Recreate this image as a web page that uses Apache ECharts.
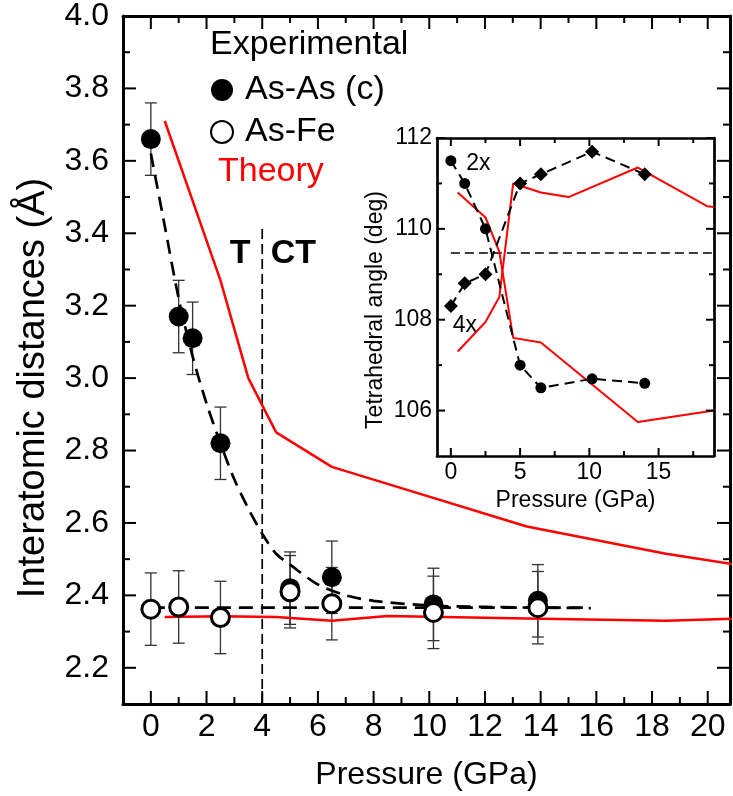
<!DOCTYPE html>
<html>
<head>
<meta charset="utf-8">
<script src="https://cdn.jsdelivr.net/npm/echarts@6/dist/echarts.min.js"></script>
<style>html,body{margin:0;padding:0;background:#fff}#c{width:733px;height:796px}</style>
</head>
<body>
<div id="c"></div>
<script>
// ---------- data ----------
const asAsPressure = [0, 1, 1.5, 2.5, 5, 6.5, 10.15, 13.9];
const asAsDist     = [3.66, 3.17, 3.11, 2.82, 2.42, 2.45, 2.375, 2.385];
const asAsErr      = [0.1, 0.1, 0.1, 0.1, 0.1, 0.1, 0.1, 0.1];

const asFePressure = [0, 1, 2.5, 5, 6.5, 10.15, 13.9];
const asFeDist     = [2.362, 2.368, 2.339, 2.41, 2.377, 2.353, 2.366];
const asFeErr      = [0.1, 0.1, 0.1, 0.1, 0.1, 0.1, 0.1];

const fitAsAsPressure = [0, 0.5, 1, 1.5, 2, 2.5, 3, 3.5, 4, 4.5, 5, 6, 7, 8, 10, 12, 14, 15.8];
const fitAsAsDist     = [3.62, 3.42, 3.22, 3.06, 2.93, 2.82, 2.72, 2.64, 2.57, 2.515, 2.485, 2.43, 2.40, 2.385, 2.372, 2.368, 2.366, 2.365];
const fitAsFePressure = [0, 15.8];
const fitAsFeDist     = [2.366, 2.366];

const theoryUpperPressure = [0.5, 2.5, 3.5, 4.5, 6.5, 8.5, 13.5, 18.5, 21];
const theoryUpperDist     = [3.71, 3.27, 3.0, 2.85, 2.755, 2.708, 2.59, 2.515, 2.485];
const theoryLowerPressure = [0.5, 2.5, 4.5, 6.5, 8.5, 13.5, 18.5, 21];
const theoryLowerDist     = [2.34, 2.342, 2.34, 2.33, 2.343, 2.336, 2.33, 2.336];

const transitionPressure = 4;
const transitionRange = [2.1, 3.42];

const mainXTicks = [0, 2, 4, 6, 8, 10, 12, 14, 16, 18, 20];
const mainXMinor = [1, 3, 5, 7, 9, 11, 13, 15, 17, 19];
const mainYTicks = [2.2, 2.4, 2.6, 2.8, 3.0, 3.2, 3.4, 3.6, 3.8, 4.0];
const mainYMinor = [2.3, 2.5, 2.7, 2.9, 3.1, 3.3, 3.5, 3.7, 3.9];

// inset
const insetPressure = [0, 1, 2.5, 5, 6.5, 10.2, 14];
const angle2x = [111.5, 111.0, 110.0, 107.0, 106.5, 106.7, 106.6];
const angle4x = [108.3, 108.8, 109.0, 111.0, 111.2, 111.7, 111.2];
const theoryAPressure = [0.5, 2.5, 3.5, 4.5, 6.5, 13.5, 19];
const theoryAAngle    = [110.8, 110.25, 109.5, 107.6, 107.5, 105.75, 106.0];
const theoryBPressure = [0.5, 2.5, 3.5, 4.5, 6.5, 8.5, 13.5, 18.5, 19];
const theoryBAngle    = [107.3, 107.95, 108.5, 111.0, 110.8, 110.7, 111.35, 110.5, 110.48];
const idealAngle = 109.47;
const idealRange = [0, 19];
const insetXTicks = [0, 5, 10, 15];
const insetXMinor = [2.5, 7.5, 12.5, 17.5];
const insetYTicks = [106, 108, 110, 112];
const insetYMinor = [107, 109, 111];

// ---------- helpers ----------
const FONT = 'Liberation Sans, Arial, Helvetica, sans-serif';
const zip = (a, b) => a.map((v, i) => [v, b[i]]);
const errData = (p, v, e) => p.map((x, i) => [x, v[i] - e[i], v[i] + e[i]]);
const near = (v, list) => list.some(t => Math.abs(t - v) < 1e-6);

function errRender(params, api) {
  const x = api.value(0), lo = api.value(1), hi = api.value(2);
  const a = api.coord([x, hi]), b = api.coord([x, lo]);
  const w = 6, st = {stroke: '#333', lineWidth: 1.3};
  return {type: 'group', children: [
    {type: 'line', shape: {x1: a[0], y1: a[1], x2: b[0], y2: b[1]}, style: st},
    {type: 'line', shape: {x1: a[0] - w, y1: a[1], x2: a[0] + w, y2: a[1]}, style: st},
    {type: 'line', shape: {x1: b[0] - w, y1: b[1], x2: b[0] + w, y2: b[1]}, style: st}
  ]};
}

// inside tick marks on both opposite sides, placed through the axis scales
function tickSeries(xi, yi, xr, yr, vals, isX, len, w) {
  const xMid = (xr[0] + xr[1]) / 2, yMid = (yr[0] + yr[1]) / 2;
  const data = vals.map(v => isX ? [v, yMid] : [xMid, v]);
  const st = {stroke: '#000', lineWidth: w};
  return {
    type: 'custom', xAxisIndex: xi, yAxisIndex: yi, silent: true, z: 10,
    encode: {x: 0, y: 1}, data: data,
    renderItem: function (params, api) {
      const vx = api.value(0), vy = api.value(1);
      let a, b;
      if (isX) {
        a = api.coord([vx, yr[0]]); b = api.coord([vx, yr[1]]);
        return {type: 'group', children: [
          {type: 'line', shape: {x1: a[0], y1: a[1], x2: a[0], y2: a[1] - len}, style: st},
          {type: 'line', shape: {x1: b[0], y1: b[1], x2: b[0], y2: b[1] + len}, style: st}
        ]};
      }
      a = api.coord([xr[0], vy]); b = api.coord([xr[1], vy]);
      return {type: 'group', children: [
        {type: 'line', shape: {x1: a[0], y1: a[1], x2: a[0] + len, y2: a[1]}, style: st},
        {type: 'line', shape: {x1: b[0], y1: b[1], x2: b[0] - len, y2: b[1]}, style: st}
      ]};
    }
  };
}

function mkAxis(o) {
  return Object.assign({
    type: 'value', splitLine: {show: false},
    axisLine: {show: true, onZero: false, lineStyle: {color: '#000', width: o.lw || 3}},
    axisTick: {show: false},
    axisLabel: o.labels ? {show: true, fontSize: o.fs, fontFamily: FONT, color: '#000', margin: o.margin,
      formatter: v => near(v, o.labels) ? (o.fix != null ? v.toFixed(o.fix) : String(Math.round(v))) : ''} : {show: false},
    minInterval: o.step, maxInterval: o.step
  }, o.extra || {});
}

const mainX = {min: -1, max: 20.8}, mainY = {min: 2.1, max: 4.0};
const insX = {min: -1, max: 19}, insY = {min: 105, max: 112};

const xAxes = [
  mkAxis({step: 2, labels: mainXTicks, fs: 32, margin: 7, extra: Object.assign({gridIndex: 0, position: 'bottom',
    name: 'Pressure (GPa)', nameLocation: 'middle', nameGap: 55, nameTextStyle: {fontSize: 32, fontFamily: FONT, color: '#000'}}, mainX)}),
  mkAxis({step: 2, extra: Object.assign({gridIndex: 0, position: 'top'}, mainX)}),
  mkAxis({step: 5, lw: 2.7, labels: insetXTicks, fs: 23, margin: 5, extra: Object.assign({gridIndex: 1, position: 'bottom',
    name: 'Pressure (GPa)', nameLocation: 'middle', nameGap: 33, nameTextStyle: {fontSize: 23, fontFamily: FONT, color: '#000'}}, insX)}),
  mkAxis({step: 5, lw: 2.7, extra: Object.assign({gridIndex: 1, position: 'top'}, insX)})
];
const yAxes = [
  mkAxis({step: 0.2, labels: mainYTicks, fix: 1, fs: 32, margin: 14, extra: Object.assign({gridIndex: 0, position: 'left',
    name: 'Interatomic distances (Å)', nameLocation: 'middle', nameGap: 70,
    nameTextStyle: {fontSize: 38, fontFamily: FONT, color: '#000', padding: [0, 56, 0, 0]}}, mainY)}),
  mkAxis({step: 0.2, extra: Object.assign({gridIndex: 0, position: 'right'}, mainY)}),
  mkAxis({step: 2, lw: 2.7, labels: insetYTicks, fs: 23, margin: 5, extra: Object.assign({gridIndex: 1, position: 'left',
    name: 'Tetrahedral angle (deg)', nameLocation: 'middle', nameGap: 50,
    nameTextStyle: {fontSize: 23, fontFamily: FONT, color: '#000', padding: [0, 26, 0, 0]}}, insY)}),
  mkAxis({step: 2, lw: 2.7, extra: Object.assign({gridIndex: 1, position: 'right'}, insY)})
];

const M = {xAxisIndex: 0, yAxisIndex: 0};
const I = {xAxisIndex: 2, yAxisIndex: 2};
const dash = (w, d) => ({color: '#000', width: w, type: d});
const red = {color: '#ff0000', width: 2.5};
const hiddenDot = {color: 'rgba(0,0,0,0)', opacity: 1};
const mXr = [mainX.min, mainX.max], mYr = [mainY.min, mainY.max];
const iXr = [insX.min, insX.max], iYr = [insY.min, insY.max];

const series = [
  tickSeries(0, 0, mXr, mYr, mainXTicks, true, 13, 2),
  tickSeries(0, 0, mXr, mYr, mainXMinor, true, 7, 2),
  tickSeries(0, 0, mXr, mYr, mainYTicks, false, 13, 2),
  tickSeries(0, 0, mXr, mYr, mainYMinor, false, 7, 2),
  tickSeries(2, 2, iXr, iYr, insetXTicks, true, 8, 2),
  tickSeries(2, 2, iXr, iYr, insetXMinor, true, 5, 2),
  tickSeries(2, 2, iXr, iYr, insetYTicks, false, 8, 2),
  tickSeries(2, 2, iXr, iYr, insetYMinor, false, 5, 2),
  Object.assign({type: 'custom', renderItem: errRender, data: errData(asAsPressure, asAsDist, asAsErr), encode: {x: 0, y: [1, 2]}, z: 1, silent: true}, M),
  Object.assign({type: 'custom', renderItem: errRender, data: errData(asFePressure, asFeDist, asFeErr), encode: {x: 0, y: [1, 2]}, z: 1, silent: true}, M),
  Object.assign({type: 'line', data: zip(fitAsAsPressure, fitAsAsDist), symbol: 'none', smooth: 0.3, lineStyle: dash(2.7, [14, 8]), z: 2}, M),
  Object.assign({type: 'line', data: zip(fitAsFePressure, fitAsFeDist), symbol: 'none', lineStyle: dash(2.7, [14, 8]), z: 2}, M),
  Object.assign({type: 'line', data: [[transitionPressure, transitionRange[0]], [transitionPressure, transitionRange[1]]], symbol: 'none', lineStyle: dash(1.7, [10, 5]), z: 2}, M),
  Object.assign({type: 'line', data: zip(theoryUpperPressure, theoryUpperDist), symbol: 'none', lineStyle: red, z: 3}, M),
  Object.assign({type: 'line', data: zip(theoryLowerPressure, theoryLowerDist), symbol: 'none', lineStyle: red, z: 3}, M),
  Object.assign({name: 'As-As (c)', type: 'scatter', data: zip(asAsPressure, asAsDist), symbol: 'circle', symbolSize: 20,
    itemStyle: {color: '#000', opacity: 1}, z: 4}, M),
  Object.assign({name: 'As-Fe', type: 'scatter', data: zip(asFePressure, asFeDist), symbol: 'circle', symbolSize: 18,
    itemStyle: {color: '#fff', borderColor: '#000', borderWidth: 3, opacity: 1}, z: 5}, M),
  Object.assign({type: 'scatter', symbolSize: 1, itemStyle: hiddenDot, z: 6, silent: true,
    label: {show: true, position: 'inside', formatter: p => p.name, fontSize: 34, fontWeight: 'bold', fontFamily: FONT, color: '#000'},
    data: [{name: 'T', value: [3.21, 3.345]}, {name: 'CT', value: [5.12, 3.345]}]}, M),
  // inset
  Object.assign({type: 'line', data: [[idealRange[0], idealAngle], [idealRange[1], idealAngle]], symbol: 'none', lineStyle: dash(1.5, [9, 5]), z: 2}, I),
  Object.assign({type: 'line', data: zip(theoryAPressure, theoryAAngle), symbol: 'none', lineStyle: {color: '#ff0000', width: 2}, z: 3}, I),
  Object.assign({type: 'line', data: zip(theoryBPressure, theoryBAngle), symbol: 'none', lineStyle: {color: '#ff0000', width: 2}, z: 3}, I),
  Object.assign({type: 'line', data: zip(insetPressure, angle2x), symbol: 'circle', symbolSize: 11, showSymbol: true,
    itemStyle: {color: '#000', opacity: 1}, lineStyle: dash(2, [10, 6]), z: 4}, I),
  Object.assign({type: 'line', data: zip(insetPressure, angle4x), symbol: 'diamond', symbolSize: 14, showSymbol: true,
    itemStyle: {color: '#000', opacity: 1}, lineStyle: dash(2, [10, 6]), z: 4}, I),
  Object.assign({type: 'scatter', symbolSize: 1, itemStyle: hiddenDot, z: 6, silent: true,
    label: {show: true, position: 'inside', formatter: p => p.name, fontSize: 23, fontFamily: FONT, color: '#000'},
    data: [{name: '2x', value: [1.98, 111.44]}, {name: '4x', value: [1.02, 107.87]}]}, I)
];

const chart = echarts.init(document.getElementById('c'), null, {renderer: 'canvas'});
chart.setOption({
  animation: false,
  grid: [
    {left: 123, top: 13, width: 613, height: 695},
    {left: 437, top: 138, width: 277, height: 318}
  ],
  xAxis: xAxes,
  yAxis: yAxes,
  legend: {
    data: ['As-As (c)', 'As-Fe'], orient: 'vertical', left: 210, top: 70, padding: 0,
    itemWidth: 24, itemHeight: 22, itemGap: 2, selectedMode: false,
    textStyle: {fontSize: 34, fontFamily: FONT, color: '#000', lineHeight: 40, padding: [0, 0, 0, 6]}
  },
  graphic: [
    {type: 'text', x: 210, y: 45, style: {text: 'Experimental', font: '34px ' + FONT, fill: '#000', verticalAlign: 'middle'}},
    {type: 'text', x: 218, y: 172, style: {text: 'Theory', font: '34px ' + FONT, fill: '#ff0000', verticalAlign: 'middle'}}
  ],
  series: series
});
</script>
</body>
</html>
